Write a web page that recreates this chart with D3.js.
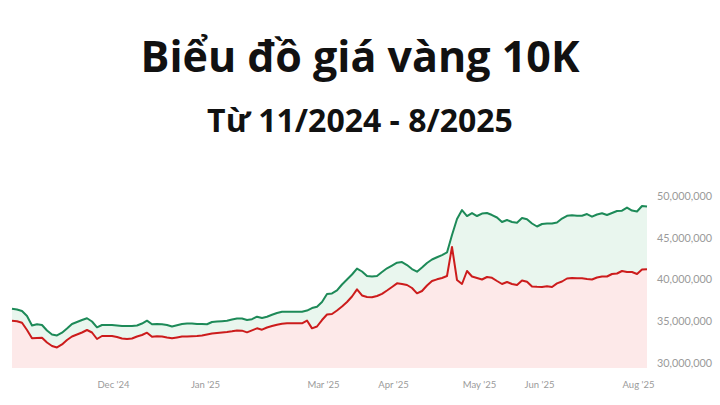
<!DOCTYPE html>
<html>
<head>
<meta charset="utf-8">
<script src="https://cdn.jsdelivr.net/npm/d3@7"></script>
<style>
  body { margin: 0; background: #fff; }
  svg { display: block; }
</style>
</head>
<body>
<div id="chart"></div>
<script>
var w = 720;
var h = 405;

// giá bán (xanh) và giá mua (đỏ), đơn vị triệu đồng, mỗi điểm một phiên
var giaBan = [36.49, 36.39, 36.21, 35.61, 34.47, 34.62, 34.53, 33.87, 33.39, 33.27,
  33.61, 34.11, 34.65, 34.89, 35.13, 35.34, 34.95, 34.25, 34.53, 34.53,
  34.53, 34.47, 34.41, 34.41, 34.41, 34.47, 34.71, 35.05, 34.62, 34.65,
  34.62, 34.53, 34.35, 34.50, 34.65, 34.71, 34.71, 34.65, 34.65, 34.62,
  34.89, 34.95, 34.99, 35.04, 35.19, 35.31, 35.31, 35.13, 35.23, 35.53,
  35.37, 35.52, 35.76, 35.97, 36.12, 36.13, 36.13, 36.13, 36.13, 36.27,
  36.57, 36.73, 37.30, 38.26, 38.32, 38.68, 39.40, 40.00, 40.60, 41.32,
  40.96, 40.42, 40.36, 40.42, 40.90, 41.35, 41.68, 42.02, 42.10, 41.74,
  41.26, 40.94, 41.44, 41.98, 42.40, 42.67, 42.94, 43.25, 45.35, 47.27,
  48.35, 47.63, 47.99, 47.63, 47.93, 47.99, 47.75, 47.45, 46.91, 47.15,
  46.91, 46.83, 47.39, 47.24, 46.73, 46.37, 46.67, 46.73, 46.73, 46.85,
  47.33, 47.66, 47.73, 47.67, 47.67, 47.87, 47.55, 47.81, 47.96, 47.75,
  47.99, 48.23, 48.27, 48.65, 48.29, 48.17, 48.83, 48.77];

var giaMua = [35.05, 34.99, 34.80, 33.93, 32.93, 32.97, 33.00, 32.43, 32.01, 31.83,
  32.19, 32.73, 33.15, 33.39, 33.63, 33.93, 33.63, 32.85, 33.21, 33.21,
  33.21, 33.09, 32.91, 32.85, 32.91, 33.15, 33.33, 33.61, 33.12, 33.17,
  33.15, 33.03, 32.93, 33.03, 33.14, 33.16, 33.19, 33.21, 33.27, 33.39,
  33.51, 33.57, 33.63, 33.69, 33.77, 33.87, 33.85, 33.65, 33.89, 34.13,
  33.97, 34.23, 34.41, 34.57, 34.68, 34.74, 34.74, 34.74, 34.74, 35.07,
  34.13, 34.35, 35.13, 35.79, 35.85, 36.27, 36.75, 37.30, 37.96, 38.82,
  38.08, 37.90, 37.86, 38.02, 38.28, 38.68, 39.10, 39.54, 39.46, 39.34,
  38.98, 38.34, 38.62, 39.28, 39.82, 40.02, 40.18, 40.42, 43.91, 39.94,
  39.46, 41.02, 40.36, 40.18, 40.00, 40.30, 40.20, 39.82, 39.46, 39.70,
  39.46, 39.34, 39.88, 39.74, 39.16, 39.12, 39.10, 39.19, 39.10, 39.54,
  39.76, 40.12, 40.18, 40.14, 40.14, 40.06, 40.00, 40.24, 40.36, 40.36,
  40.66, 40.72, 41.02, 40.90, 40.90, 40.66, 41.20, 41.23];

var xTickLabels = ["Dec '24", "Jan '25", "Mar '25", "Apr '25", "May '25", "Jun '25", "Aug '25"];
var xTickIndex = [20.2, 38.6, 62.2, 76.2, 93.4, 105.4, 125.2];
var yTicks = [30, 35, 40, 45, 50];
var yMin = 29.36;

var svg = d3.select("#chart")
    .append("svg")
    .attr("width", w)
    .attr("height", h)
    .style("background-color", "#fff");

svg.append("text")
    .attr("x", 360)
    .attr("y", 72)
    .attr("text-anchor", "middle")
    .attr("font-family", "'Open Sans', sans-serif")
    .attr("font-weight", 700)
    .attr("font-size", 43)
    .attr("fill", "#111")
    .text("Biểu đồ giá vàng 10K");

svg.append("text")
    .attr("x", 360)
    .attr("y", 132)
    .attr("text-anchor", "middle")
    .attr("font-family", "'Open Sans', sans-serif")
    .attr("font-weight", 700)
    .attr("font-size", 32)
    .attr("fill", "#111")
    .text("Từ 11/2024 - 8/2025");

var xScale = d3.scaleLinear()
    .domain([0, giaBan.length - 1])
    .range([12, 647]);

var yScale = d3.scaleLinear()
    .domain([30, 50])
    .range([362.7, 196.3]);

var data = giaBan.map(function(d, i) {
    return { i: i, ban: d, mua: giaMua[i] };
});

// vùng giữa giá bán và giá mua
var areaBan = d3.area()
    .x(function(d) { return xScale(d.i); })
    .y0(function(d) { return yScale(d.mua); })
    .y1(function(d) { return yScale(d.ban); });

var areaMua = d3.area()
    .x(function(d) { return xScale(d.i); })
    .y0(yScale(yMin))
    .y1(function(d) { return yScale(d.mua); });

svg.append("path")
    .datum(data)
    .attr("d", areaBan)
    .attr("fill", "#e9f6ee");

svg.append("path")
    .datum(data)
    .attr("d", areaMua)
    .attr("fill", "#fde9e9");

var lineBan = d3.line()
    .x(function(d) { return xScale(d.i); })
    .y(function(d) { return yScale(d.ban); });

var lineMua = d3.line()
    .x(function(d) { return xScale(d.i); })
    .y(function(d) { return yScale(d.mua); });

svg.append("path")
    .datum(data)
    .attr("d", lineBan)
    .attr("fill", "none")
    .attr("stroke", "#1d8a58")
    .attr("stroke-width", 2)
    .attr("stroke-linejoin", "round");

svg.append("path")
    .datum(data)
    .attr("d", lineMua)
    .attr("fill", "none")
    .attr("stroke", "#cc1c1c")
    .attr("stroke-width", 2)
    .attr("stroke-linejoin", "round");

// trục
var yAxis = d3.axisRight(yScale)
    .tickValues(yTicks)
    .tickSize(0)
    .tickPadding(0)
    .tickFormat(function(d) { return d3.format(",")(d * 1e6); });

var gy = svg.append("g")
    .attr("transform", "translate(657,0)")
    .call(yAxis);
gy.select(".domain").remove();
gy.selectAll("text")
    .attr("fill", "#9a9a9a")
    .attr("font-family", "Lato, sans-serif")
    .attr("font-size", 10.8);

var xAxis = d3.axisBottom(xScale)
    .tickValues(xTickIndex)
    .tickSize(0)
    .tickPadding(0)
    .tickFormat(function(d, i) { return xTickLabels[i]; });

var gx = svg.append("g")
    .attr("transform", "translate(0,381)")
    .call(xAxis);
gx.select(".domain").remove();
gx.selectAll("text")
    .attr("fill", "#9a9a9a")
    .attr("font-family", "Lato, sans-serif")
    .attr("font-size", 9.5);
</script>
</body>
</html>
